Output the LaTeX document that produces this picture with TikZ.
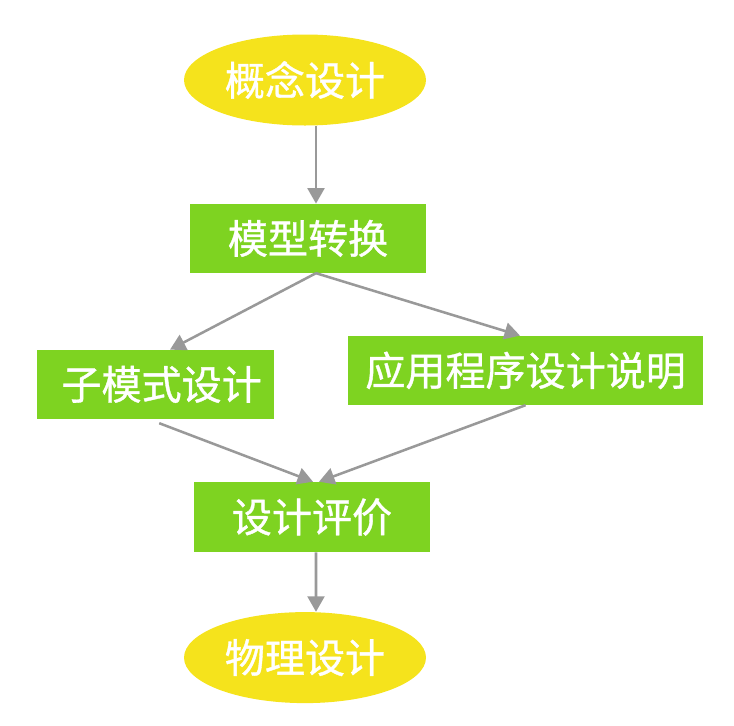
\documentclass[tikz,border=0pt]{standalone}
\usepackage{fontspec}
\newfontfamily\cjk[FakeBold=0.9]{Noto Sans CJK SC}
\usepackage{tikz}
\usetikzlibrary{shapes,arrows.meta,positioning,calc}
\definecolor{ovalyellow}{HTML}{F5E31C}
\definecolor{boxgreen}{HTML}{7ED321}
\definecolor{arrowgray}{HTML}{999999}

\begin{document}
\begin{tikzpicture}[
    oval/.style={ellipse, fill=ovalyellow, inner sep=0pt, minimum width=6.05cm, minimum height=2.275cm,
                 text=white, font=\cjk\fontsize{28.5pt}{30pt}\selectfont},
    stepbox/.style={rectangle, fill=boxgreen, inner sep=0pt, minimum height=1.725cm,
                 text=white, font=\cjk\fontsize{28.5pt}{30pt}\selectfont},
    flow/.style={arrowgray, line width=1.8pt, -{Triangle[length=11pt,width=12pt]}}
]
    \useasboundingbox (0,0) rectangle (18.35,-18.15);

    % Start and end
    \node[oval] (concept) at (7.625,-2.0) {概念设计};
    \node[oval] (physical) at (7.625,-16.44) {物理设计};

    % Steps
    \node[stepbox, minimum width=5.9cm] (transform) at (7.7,-5.96) {模型转换};
    \node[stepbox, minimum width=5.925cm] (subschema) at (3.89,-9.61) {\hspace*{0.3cm}子模式设计};
    \node[stepbox, minimum width=8.875cm] (appspec) at (13.14,-9.26) {应用程序设计说明};
    \node[stepbox, minimum width=5.9cm, minimum height=1.75cm] (review) at (7.8,-12.925) {设计评价};

    % Connectors
    \draw[flow] ([xshift=0.275cm]concept.south) -- ([xshift=0.2cm]transform.north);
    \draw[flow] ([xshift=0.2cm]transform.south) -- ([xshift=0.36cm]subschema.north);
    \draw[flow] ([xshift=0.2cm]transform.south) -- ([xshift=-0.14cm]appspec.north);
    \draw[flow] ([xshift=0.09cm,yshift=-0.1cm]subschema.south) -- ([xshift=0.025cm]review.north);
    \draw[flow] (appspec.south) -- ([xshift=0.175cm]review.north);
    \draw[flow] ([xshift=0.1cm]review.south) -- ([xshift=0.275cm]physical.north);
\end{tikzpicture}
\end{document}
